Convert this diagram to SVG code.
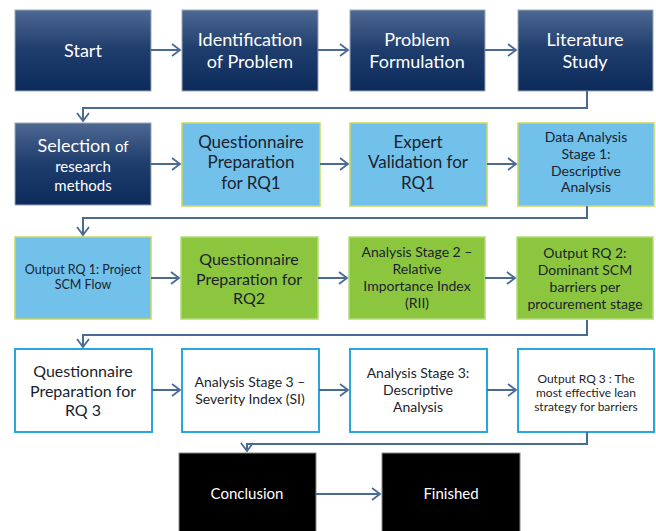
<svg xmlns="http://www.w3.org/2000/svg" width="656" height="531" viewBox="0 0 656 531">
<defs>
<linearGradient id="navy" x1="0" y1="0" x2="0" y2="1">
<stop offset="0" stop-color="#4d6892"/>
<stop offset="0.5" stop-color="#1e3c6c"/>
<stop offset="1" stop-color="#0c2a5a"/>
</linearGradient>
<marker id="arr" markerUnits="userSpaceOnUse" markerWidth="12" markerHeight="16" refX="9" refY="7" orient="auto">
<path d="M1,1 L9,7 L1,13" fill="none" stroke="#4a6a96" stroke-width="1.8"/>
</marker>
</defs>
<style>
text{font-family:Lato,"Open Sans","Liberation Sans",sans-serif;text-anchor:middle}
.dark rect{fill:url(#navy);stroke:#9aa8bc;stroke-width:1}
.dark text{fill:#ffffff;font-size:18px}
.lb rect{fill:#71c1ea;stroke:#c6d75c;stroke-width:1.5}
.gr rect{fill:#8cc63f;stroke:#b3da7a;stroke-width:1.5}
.wh rect{fill:#ffffff;stroke:#2aa6df;stroke-width:2}
.bk rect{fill:#000000;stroke:#8a8a8a;stroke-width:1}
.bk text{fill:#ffffff;font-size:15px}
.lb text,.gr text,.wh text{fill:#1b1f2e}
.f17{font-size:17px}
.f16{font-size:16px}
.f14{font-size:14px}
.f13{font-size:12.5px}
.f12{font-size:12px}
.con path{fill:none;stroke:#4a6a96;stroke-width:2;marker-end:url(#arr)}
</style>

<g id="start" class="dark"><rect x="15" y="10" width="136" height="81"/><text x="83" y="57">Start</text></g>
<g id="identification" class="dark"><rect x="182" y="10" width="136" height="81"/><text x="250" y="46">Identification</text><text x="250" y="68">of Problem</text></g>
<g id="formulation" class="dark"><rect x="350" y="10" width="135" height="81"/><text x="417" y="46">Problem</text><text x="417" y="68">Formulation</text></g>
<g id="literature" class="dark"><rect x="518" y="10" width="135" height="81"/><text x="585" y="46">Literature</text><text x="585" y="68">Study</text></g>

<g id="selection" class="dark"><rect x="15" y="123" width="136" height="82"/><text x="83" y="152">Selection <tspan style="font-size:15px">of</tspan></text><text x="83" y="172" style="font-size:15px">research</text><text x="83" y="191" style="font-size:15px">methods</text></g>
<g id="q-rq1" class="lb"><rect x="182" y="123" width="138" height="83"/><text class="f17" x="251" y="148">Questionnaire</text><text class="f17" x="251" y="168">Preparation</text><text class="f17" x="251" y="189">for RQ1</text></g>
<g id="expert" class="lb"><rect x="350" y="123" width="137" height="83"/><text class="f17" x="418" y="148">Expert</text><text class="f17" x="418" y="168">Validation for</text><text class="f17" x="418" y="189">RQ1</text></g>
<g id="data-analysis" class="lb"><rect x="518" y="123" width="136" height="83"/><text class="f14" x="586" y="142">Data Analysis</text><text class="f14" x="586" y="159">Stage 1:</text><text class="f14" x="586" y="176">Descriptive</text><text class="f14" x="586" y="192">Analysis</text></g>

<g id="out-rq1" class="lb"><rect x="15" y="237" width="136" height="82"/><text class="f13" x="83" y="274">Output RQ 1: Project</text><text class="f13" x="83" y="289">SCM Flow</text></g>
<g id="q-rq2" class="gr"><rect x="181" y="237" width="137" height="82"/><text class="f16" x="249" y="265">Questionnaire</text><text class="f16" x="249" y="285">Preparation for</text><text class="f16" x="249" y="304">RQ2</text></g>
<g id="rii" class="gr"><rect x="349" y="237" width="136" height="82"/><text class="f14" x="417" y="257">Analysis Stage 2 –</text><text class="f14" x="417" y="274">Relative</text><text class="f14" x="417" y="291">Importance Index</text><text class="f14" x="417" y="308">(RII)</text></g>
<g id="out-rq2" class="gr"><rect x="517" y="237" width="136" height="82"/><text class="f14" x="585" y="258">Output RQ 2:</text><text class="f14" x="585" y="275">Dominant SCM</text><text class="f14" x="585" y="292">barriers per</text><text class="f14" x="585" y="309">procurement stage</text></g>

<g id="q-rq3" class="wh"><rect x="15" y="349" width="137" height="83"/><text class="f16" x="83" y="377">Questionnaire</text><text class="f16" x="83" y="397">Preparation for</text><text class="f16" x="83" y="416">RQ 3</text></g>
<g id="si" class="wh"><rect x="182" y="349" width="137" height="83"/><text class="f14" x="250" y="387">Analysis Stage 3 –</text><text class="f14" x="250" y="404">Severity Index (SI)</text></g>
<g id="descriptive" class="wh"><rect x="350" y="349" width="137" height="83"/><text class="f14" x="418" y="378">Analysis Stage 3:</text><text class="f14" x="418" y="395">Descriptive</text><text class="f14" x="418" y="412">Analysis</text></g>
<g id="out-rq3" class="wh"><rect x="518" y="349" width="136" height="83"/><text class="f12" x="586" y="383">Output RQ 3 : The</text><text class="f12" x="586" y="397">most effective lean</text><text class="f12" x="586" y="411">strategy for barriers</text></g>

<g id="conclusion" class="bk"><rect x="179" y="453" width="137" height="85"/><text x="247" y="499">Conclusion</text></g>
<g id="finished" class="bk"><rect x="382" y="453" width="138" height="85"/><text x="451" y="499">Finished</text></g>

<g id="connectors" class="con">
<path d="M151,50 H180"/><path d="M318,50 H348"/><path d="M485,50 H516"/>
<path d="M587,91 V108 H83 V121"/>
<path d="M151,164 H180"/><path d="M320,164 H348"/><path d="M487,164 H516"/>
<path d="M587,206 V218 H83 V235"/>
<path d="M151,278 H179"/><path d="M318,278 H347"/><path d="M485,278 H515"/>
<path d="M587,320 V335 H83 V347"/>
<path d="M152,390 H180"/><path d="M319,390 H348"/><path d="M487,390 H516"/>
<path d="M587,432 V444 H247 V451"/>
<path d="M316,494 H380"/>
</g>
</svg>
